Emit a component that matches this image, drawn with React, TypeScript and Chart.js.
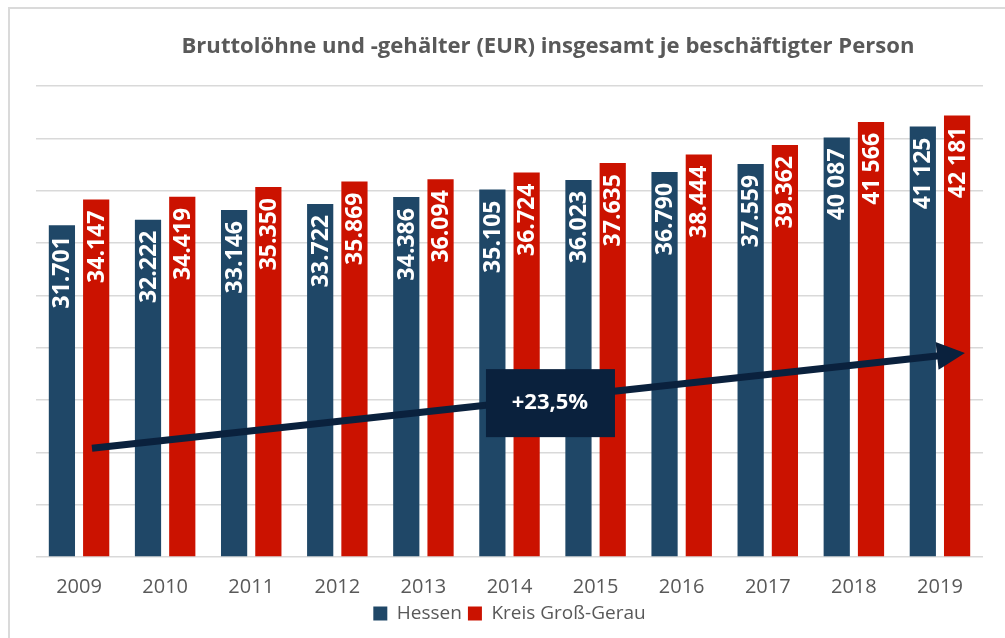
import React, { useEffect, useRef } from "react";
import { Chart, registerables } from "chart.js";

Chart.register(...registerables);

const YEARS = ["2009", "2010", "2011", "2012", "2013", "2014", "2015", "2016", "2017", "2018", "2019"];
const HESSEN = [31701, 32222, 33146, 33722, 34386, 35105, 36023, 36790, 37559, 40087, 41125];
const KREIS = [34147, 34419, 35350, 35869, 36094, 36724, 37635, 38444, 39362, 41566, 42181];
// thousands separator as printed in the source for each year
const SEPARATORS = [".", ".", ".", ".", ".", ".", ".", ".", ".", " ", " "];
const TITLE = "Bruttolöhne und -gehälter (EUR) insgesamt je beschäftigter Person";
const ARROW_TEXT = "+23,5%";
// arrow annotation in data units (category index, EUR)
const ARROW_START = { x: 0.15, y: 10400 };
const ARROW_END = { x: 10.29, y: 19500 };
const ARROW_BOX = { x: 5.47, y: 14700 };

const BLUE = "#1f4767";
const RED = "#cb1200";
const NAVY = "#0a213d";
const GREY_TEXT = "#595959";
const FONT = '"Open Sans", "Noto Sans", sans-serif';

function fmt(v: number, i: number): string {
  const s = String(v);
  return s.slice(0, s.length - 3) + SEPARATORS[i] + s.slice(s.length - 3);
}

const decorPlugin = {
  id: "decor",
  beforeDraw(chart: any) {
    const ctx = chart.ctx;
    ctx.save();
    ctx.fillStyle = "#ffffff";
    ctx.fillRect(0, 0, chart.width, chart.height);
    ctx.fillStyle = "#dadada";
    ctx.fillRect(8, 7, chart.width - 8, 2);
    ctx.fillRect(8, 7, 2, chart.height - 7);
    ctx.restore();
  },
  afterDatasetsDraw(chart: any) {
    const ctx = chart.ctx;
    // value labels
    ctx.save();
    ctx.font = `bold 23px ${FONT}`;
    ctx.fillStyle = "#ffffff";
    ctx.textAlign = "right";
    ctx.textBaseline = "middle";
    chart.data.datasets.forEach((ds: any, di: number) => {
      const meta = chart.getDatasetMeta(di);
      meta.data.forEach((bar: any, i: number) => {
        ctx.save();
        ctx.translate(bar.x + 1, bar.y + 11);
        ctx.rotate(-Math.PI / 2);
        ctx.fillText(fmt(ds.data[i], i), 0, 0);
        ctx.restore();
      });
    });
    ctx.restore();

    // arrow
    const xs = chart.scales.x;
    const ys = chart.scales.y;
    const x0 = xs.getPixelForValue(ARROW_START.x);
    const y0 = ys.getPixelForValue(ARROW_START.y);
    const x1 = xs.getPixelForValue(ARROW_END.x);
    const y1 = ys.getPixelForValue(ARROW_END.y);
    const ang = Math.atan2(y1 - y0, x1 - x0);
    const headLen = 28;
    const headHalf = 14;
    ctx.save();
    ctx.strokeStyle = NAVY;
    ctx.fillStyle = NAVY;
    ctx.lineWidth = 7;
    ctx.beginPath();
    ctx.moveTo(x0, y0);
    ctx.lineTo(x1 - Math.cos(ang) * (headLen - 2), y1 - Math.sin(ang) * (headLen - 2));
    ctx.stroke();
    const bx = x1 - Math.cos(ang) * headLen;
    const by = y1 - Math.sin(ang) * headLen;
    ctx.beginPath();
    ctx.moveTo(x1, y1);
    ctx.lineTo(bx - Math.sin(ang) * headHalf, by + Math.cos(ang) * headHalf);
    ctx.lineTo(bx + Math.sin(ang) * headHalf, by - Math.cos(ang) * headHalf);
    ctx.closePath();
    ctx.fill();

    // box
    const cx = xs.getPixelForValue(ARROW_BOX.x);
    const cy = ys.getPixelForValue(ARROW_BOX.y);
    ctx.fillRect(cx - 64, cy - 34, 129, 68);
    ctx.fillStyle = "#ffffff";
    ctx.font = `bold 22px ${FONT}`;
    ctx.textAlign = "center";
    ctx.textBaseline = "middle";
    ctx.fillText(ARROW_TEXT, cx, cy);
    ctx.restore();
  },
  afterDraw(chart: any) {
    const ctx = chart.ctx;
    ctx.save();
    ctx.font = `bold 21px ${FONT}`;
    ctx.fillStyle = GREY_TEXT;
    ctx.textAlign = "center";
    ctx.textBaseline = "alphabetic";
    const w = ctx.measureText(TITLE).width;
    const target = 733;
    ctx.translate(548, 53);
    ctx.scale(target / w, 1);
    ctx.fillText(TITLE, 0, 0);
    ctx.restore();
  },
};

export default function App() {
  const ref = useRef<HTMLCanvasElement>(null);
  useEffect(() => {
    if (!ref.current) return;
    const chart = new Chart(ref.current, {
      type: "bar",
      data: {
        labels: YEARS,
        datasets: [
          {
            label: "Hessen",
            data: HESSEN,
            backgroundColor: BLUE,
            categoryPercentage: 0.796,
            barPercentage: 0.765,
          },
          {
            label: "Kreis Groß-Gerau",
            data: KREIS,
            backgroundColor: RED,
            categoryPercentage: 0.796,
            barPercentage: 0.765,
          },
        ],
      },
      options: {
        responsive: false,
        animation: false,
        devicePixelRatio: 1,
        layout: { padding: { left: 36, right: 22, top: 86, bottom: 5 } },
        plugins: {
          title: { display: false },
          tooltip: { enabled: false },
          legend: {
            display: true,
            position: "bottom",
            labels: {
              boxWidth: 14,
              boxHeight: 14,
              padding: 6,
              color: GREY_TEXT,
              font: { family: FONT, size: 19 },
            },
          },
        },
        scales: {
          x: {
            grid: { display: false, drawTicks: false },
            border: { display: false },
            ticks: {
              color: GREY_TEXT,
              padding: 18,
              font: { family: FONT, size: 20 },
              maxRotation: 0,
            },
            afterFit(scale: any) {
              scale.height -= 19;
            },
          },
          y: {
            min: 0,
            max: 45000,
            ticks: { display: false, stepSize: 5000 },
            grid: { color: "#d9d9d9", lineWidth: 1.5, drawTicks: false },
            border: { display: false },
          },
        },
      },
      plugins: [decorPlugin],
    });
    return () => chart.destroy();
  }, []);
  return (
    <div style={{ position: "absolute", left: 0, top: 0, width: 1005, height: 638 }}>
      <canvas ref={ref} width={1005} height={638} style={{ width: 1005, height: 638 }} />
    </div>
  );
}
